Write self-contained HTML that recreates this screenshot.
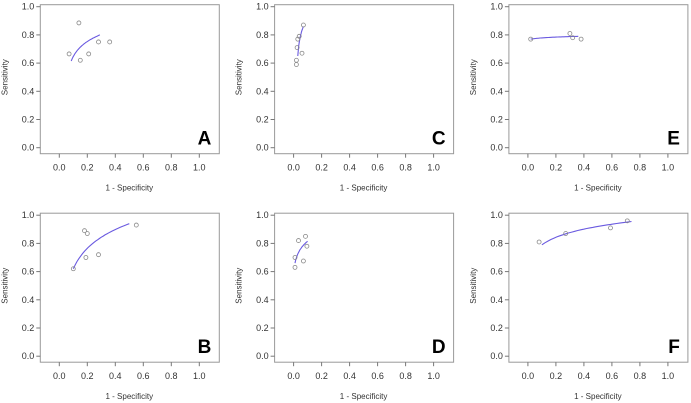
<!DOCTYPE html>
<html><head><meta charset="utf-8"><style>
html,body{margin:0;padding:0;background:#fff;}
svg{display:block;font-family:"Liberation Sans",sans-serif;}
</style></head><body>
<svg id="c" width="691" height="403"></svg>
<script>
const panelLetters = ["A","C","E","B","D","F"];
const fprA=[0.07,0.14,0.15,0.21,0.28,0.36], senA=[0.665,0.885,0.62,0.665,0.75,0.75];
const fprC=[0.02,0.02,0.025,0.03,0.04,0.06,0.07], senC=[0.59,0.62,0.71,0.77,0.79,0.67,0.87];
const fprE=[0.02,0.30,0.32,0.38], senE=[0.77,0.81,0.78,0.77];
const fprB=[0.10,0.18,0.20,0.19,0.28,0.55], senB=[0.62,0.89,0.87,0.70,0.72,0.93];
const fprD=[0.01,0.01,0.035,0.07,0.085,0.095], senD=[0.63,0.70,0.82,0.675,0.85,0.78];
const fprF=[0.08,0.27,0.59,0.71], senF=[0.81,0.87,0.91,0.96];
// curve endpoints [x0,y0,x1,y1]
const curveA=[0.085,0.615,0.29,0.80], curveC=[0.03,0.65,0.07,0.86], curveE=[0.02,0.77,0.36,0.79];
const curveB=[0.10,0.62,0.50,0.94], curveD=[0.01,0.66,0.10,0.815], curveF=[0.10,0.79,0.74,0.955];
const tickLabels=["0.0","0.2","0.4","0.6","0.8","1.0"];
const ticks=[0,0.2,0.4,0.6,0.8,1.0];
const panels=[[fprA,senA,curveA],[fprC,senC,curveC],[fprE,senE,curveE],[fprB,senB,curveB],[fprD,senD,curveD],[fprF,senF,curveF]];
const svg=document.getElementById('c');const NS="http://www.w3.org/2000/svg";
function mk(t,a,p){const e=document.createElementNS(NS,t);for(const k in a)e.setAttribute(k,a[k]);(p||svg).appendChild(e);return e;}
panels.forEach((p,i)=>{
  const col=i%3,row=Math.floor(i/3);
  const x0=59.3+col*234.3, y0=147.7+row*208.5;
  const sx=v=>x0+v*140, sy=v=>y0-v*141;
  const g=mk('g',{});
  
  
  const box=mk('rect',{x:sx(0)-19,y:sy(1)-2,width:179,height:149,fill:'none',stroke:'#999','stroke-width':1},g);
  
  ticks.forEach((t,k)=>{
    mk('line',{x1:sx(t),x2:sx(t),y1:sy(0)+6,y2:sy(0)+10,stroke:'#777'},g);
    const tx=mk('text',{x:sx(t),y:sy(0)+23,'font-size':9,'text-anchor':'middle',fill:'#333'},g);tx.textContent=tickLabels[k];
    
    mk('line',{x1:sx(0)-23,x2:sx(0)-19,y1:sy(t),y2:sy(t),stroke:'#777'},g);
    const ty=mk('text',{x:sx(0)-25,y:sy(t)+3,'font-size':9,'text-anchor':'end',fill:'#333'},g);ty.textContent=tickLabels[k];
    
  });
  const xl=mk('text',{x:sx(0.5),y:sy(0)+43,'font-size':8,'text-anchor':'middle',fill:'#333'},g);xl.textContent='1 - Specificity';
  
  const yl=mk('text',{x:0,y:0,'font-size':8,'text-anchor':'middle',fill:'#333',transform:`translate(${sx(0)-52},${sy(0.5)}) rotate(-90)`},g);yl.textContent='Sensitivity';
  
  const L=mk('text',{x:sx(1)+12,y:sy(0)-3,'font-size':19,'font-weight':'bold','text-anchor':'end',fill:'#000'},g);L.textContent=panelLetters[i];
  
  const c=p[2];let d='';
  for(let s=0;s<=30;s++){const f=s/30;const x=c[0]+(c[2]-c[0])*f;const y=c[1]+(c[3]-c[1])*Math.log(1+5*f)/Math.log(6);d+=(s?'L':'M')+sx(x).toFixed(1)+','+sy(y).toFixed(1);}
  const cv=mk('path',{d:d,fill:'none',stroke:'#6a5ae0','stroke-width':1.1},g);
  
  p[0].forEach((v,k)=>{
    const pt=mk('circle',{cx:sx(v),cy:sy(p[1][k]),r:2,fill:'none',stroke:'#888','stroke-width':0.8},g);
    
  });
});
</script>
</body></html>
